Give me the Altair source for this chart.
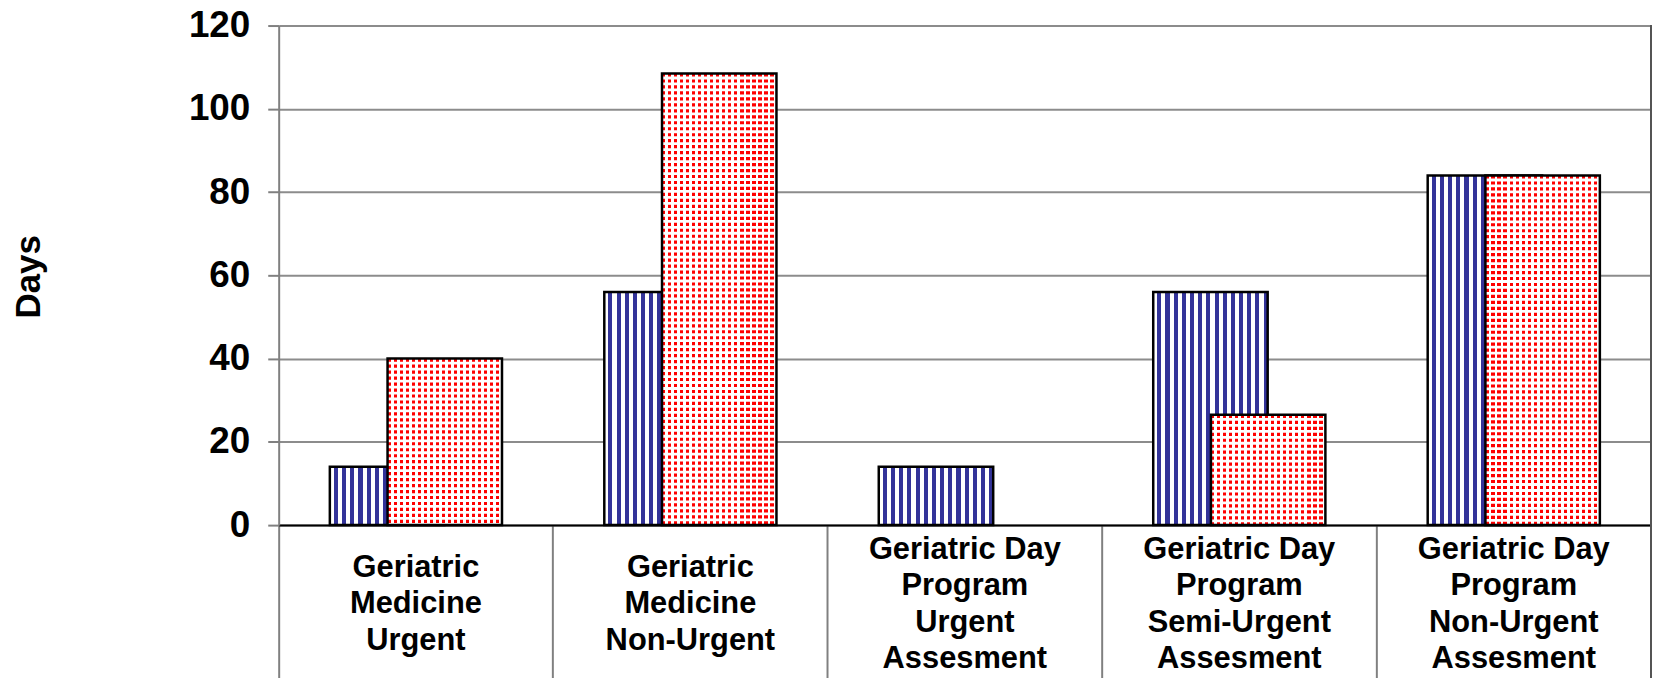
import altair as alt
import pandas as pd

categories = [
    "Geriatric|Medicine|Urgent",
    "Geriatric|Medicine|Non-Urgent",
    "Geriatric Day|Program|Urgent|Assesment",
    "Geriatric Day|Program|Semi-Urgent|Assesment",
    "Geriatric Day|Program|Non-Urgent|Assesment",
]
series_blue = [14, 56, 14, 56, 84]
series_red = [40, 108.5, 0, 26.5, 84]
y_ticks = [0, 20, 40, 60, 80, 100, 120]

df = pd.DataFrame({"cat": categories, "blue": series_blue, "red": series_red, "zero": [0] * len(categories)})

BLUE = "#333399"
RED = "#ff0000"
BAR_W = 115
OFF = 29
FONT = "Liberation Sans"


def stripes(c_a, c_b, n, frac_a):
    stops = []
    for i in range(n):
        a0 = i / n
        a1 = (i + frac_a) / n
        b1 = (i + 1) / n
        stops += [
            {"offset": a0, "color": c_a},
            {"offset": a1, "color": c_a},
            {"offset": a1, "color": c_b},
            {"offset": b1, "color": c_b},
        ]
    return {"gradient": "linear", "stops": stops, "x1": 0, "x2": 1, "y1": 0, "y2": 0}


blue_fill = stripes("#ffffff", BLUE, 14, 0.5)
red_overlay = stripes("rgba(255,255,255,0)", "#ffffff", 19, 0.53)

x_enc = alt.X(
    "cat:N",
    sort=categories,
    scale=alt.Scale(paddingInner=0, paddingOuter=0),
    axis=alt.Axis(
        title=None,
        bandPosition=0,
        tickSize=160,
        tickColor="#808080",
        tickWidth=2,
        domainColor="#000000",
        domainWidth=2,
        labels=False,
        grid=False,
    ),
)

y_scale = alt.Scale(domain=[0, 120], nice=False)
y_axis = alt.Axis(
    values=y_ticks,
    title="Days",
    titleFont=FONT,
    titleFontSize=35,
    titleFontWeight="bold",
    titleColor="#000000",
    titleX=-240,
    titleY=252,
    titleBaseline="alphabetic",
    titleAlign="center",
    labelFont=FONT,
    labelFontSize=37,
    labelFontWeight="bold",
    labelColor="#000000",
    labelPadding=18,
    tickSize=11,
    tickColor="#808080",
    tickWidth=2,
    domainColor="#808080",
    domainWidth=2,
    gridColor="#8c8c8c",
    gridWidth=2,
)

base = alt.Chart(df)
x_plain = alt.X("cat:N", sort=categories)

blue_bars = base.mark_bar(
    width=BAR_W, xOffset=-OFF, fill=blue_fill, stroke="#000000", strokeWidth=2.5
).encode(x=x_enc, y=alt.Y("blue:Q", scale=y_scale, axis=y_axis))

red_data = base.transform_filter("datum.red > 0")

red_base = red_data.mark_bar(width=BAR_W, xOffset=OFF, fill="#ffffff", strokeWidth=0).encode(
    x=x_plain, y=alt.Y("red:Q")
)

red_dash = red_data.mark_rule(
    xOffset=OFF, strokeWidth=BAR_W, color=RED, strokeDash=[3.2, 2.8], strokeCap="butt"
).encode(x=x_plain, y=alt.Y("red:Q"), y2=alt.Y2("zero:Q"))

red_top = red_data.mark_bar(
    width=BAR_W, xOffset=OFF, fill=red_overlay, stroke="#000000", strokeWidth=2.5
).encode(x=x_plain, y=alt.Y("red:Q"))

label_base = base.transform_calculate(nlines="length(split(datum.cat, '|'))")
label_style = dict(
    lineBreak="|",
    font=FONT,
    fontSize=31,
    fontWeight="bold",
    color="#000000",
    align="center",
    baseline="middle",
    lineHeight=36.5,
)
labels3 = label_base.transform_filter("datum.nlines == 3").mark_text(**label_style).encode(
    x=x_plain, y=alt.value(545), text="cat:N"
)
labels4 = label_base.transform_filter("datum.nlines == 4").mark_text(**label_style).encode(
    x=x_plain, y=alt.value(527), text="cat:N"
)

border = alt.Chart(df).mark_rule(color="#555555", strokeWidth=2).encode(
    x=alt.value(1379), y=alt.value(0), y2=alt.value(700)
)

chart = (
    alt.layer(blue_bars, red_base, red_dash, red_top, labels3, labels4, border)
    .properties(
        width=1379,
        height=502,
        autosize=alt.AutoSizeParams(type="none"),
        padding={"left": 272, "top": 16, "right": 1, "bottom": 152},
        background="#ffffff",
    )
    .configure_view(stroke=None)
)

chart.save("out.html", embed_options={"renderer": "svg", "actions": False})
